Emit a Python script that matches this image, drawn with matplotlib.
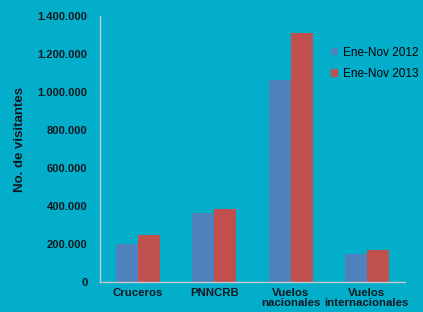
import matplotlib
matplotlib.use("Agg")
import matplotlib.pyplot as plt
import numpy as np
from matplotlib.ticker import FuncFormatter

categories = ["Cruceros", "PNNCRB", "Vuelos\nnacionales", "Vuelos\ninternacionales"]
series_names = ["Ene-Nov 2012", "Ene-Nov 2013"]
values_2012 = [200000, 361000, 1065000, 149000]
values_2013 = [249000, 384000, 1309000, 170000]
y_ticks = [0, 200000, 400000, 600000, 800000, 1000000, 1200000, 1400000]

plt.rcParams['font.family'] = ['Liberation Sans', 'DejaVu Sans']
bg = '#03AECB'
txt = '#101820'
fig = plt.figure(figsize=(4.23, 3.12), dpi=100, facecolor=bg)
ax = fig.add_axes([100/423, 1-282/312, 305/423, 266/312])
ax.set_facecolor(bg)

x = np.arange(len(categories))
w = 0.29
ax.bar(x - w/2, values_2012, w, color='#4F81BD', label=series_names[0])
ax.bar(x + w/2, values_2013, w, color='#C0504D', label=series_names[1])

ax.set_xlim(-0.5, len(categories) - 0.5)
ax.set_ylim(0, 1400000)
ax.set_yticks(y_ticks)
ax.yaxis.set_major_formatter(FuncFormatter(lambda v, p: f"{int(v):,}".replace(",", ".")))
ax.set_xticks(x)
ax.set_xticklabels(categories, fontsize=8.2, linespacing=1.05, fontweight='bold')
ax.tick_params(axis='y', labelsize=8, length=0, pad=9)
ax.tick_params(axis='x', length=0, pad=4)
for lab in ax.get_yticklabels():
    lab.set_fontweight('bold')
    lab.set_color(txt)
for lab in ax.get_xticklabels():
    lab.set_color(txt)

for s in ['top', 'right']:
    ax.spines[s].set_visible(False)
for s in ['left', 'bottom']:
    ax.spines[s].set_color('#C8C8C8')
    ax.spines[s].set_linewidth(1.0)

fig.text(20/423, 1-140/312, "No. de visitantes", rotation=90, fontsize=9.5,
         fontweight='bold', ha='center', va='center', color=txt)

leg = ax.legend(loc='upper left', bbox_to_anchor=(226/305, 1-26/266), frameon=False,
                fontsize=8.5, handlelength=0.6, handleheight=0.6, handletextpad=0.4,
                labelspacing=0.8, borderaxespad=0)

fig.savefig("out.png", dpi=100, facecolor=bg)
